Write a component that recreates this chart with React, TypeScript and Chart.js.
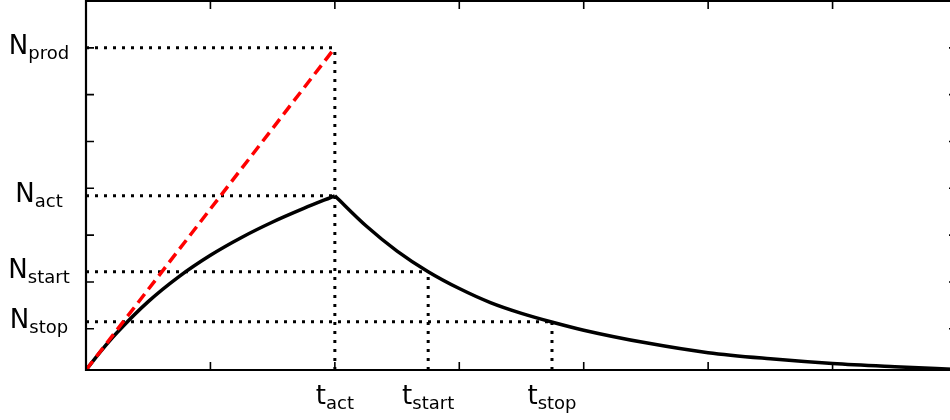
import { useEffect, useRef } from 'react';
import { Chart, registerables } from 'chart.js';

Chart.register(...registerables);

// Time axis (arbitrary units) and population curve
const riseT = [0, 0.125, 0.25, 0.5, 0.75, 1, 1.25, 1.5, 1.75, 2];
const riseN = [0.12, 0.54, 0.92, 1.58, 2.12, 2.57, 2.95, 3.28, 3.57, 3.84];
const decayT = [2, 2.25, 2.5, 2.75, 3, 3.25, 3.5, 3.75, 4, 4.5, 5, 5.5, 6, 6.5, 7];
const decayN = [3.84, 3.2, 2.66, 2.22, 1.86, 1.56, 1.33, 1.14, 0.97, 0.7, 0.49, 0.36, 0.26, 0.19, 0.13];

// Red dashed production line
const prodLineT = [0, 2];
const prodLineN = [0.12, 7];

// Axis limits and tick marks
const xMin = 0;
const xMax = 7;
const yMin = 0.12;
const yMax = 8;
const xTicks = [1, 2, 3, 4, 5, 6];
const yTicks = [1, 2, 3, 4, 5, 6, 7];

// Levels on the N axis
const levelSubs = ['prod', 'act', 'start', 'stop'];
const levelN = [7, 3.84, 2.22, 1.15];
const levelEndT = [2, 2, 2.75, 3.745];

// Times on the t axis
const timeSubs = ['act', 'start', 'stop'];
const timeT = [2, 2.75, 3.745];
const timeTopN = [7, 2.22, 1.15];

const FONT = '"DejaVu Sans", sans-serif';

function drawSubLabel(ctx: CanvasRenderingContext2D, main: string, sub: string, cx: number, baseline: number) {
  const mainFont = `26px ${FONT}`;
  const subFont = `18px ${FONT}`;
  ctx.font = mainFont;
  const w1 = ctx.measureText(main).width;
  ctx.font = subFont;
  const w2 = ctx.measureText(sub).width;
  const x0 = cx - (w1 + w2) / 2;
  ctx.textAlign = 'left';
  ctx.textBaseline = 'alphabetic';
  ctx.fillStyle = '#000';
  ctx.font = mainFont;
  ctx.fillText(main, x0, baseline);
  ctx.font = subFont;
  ctx.fillText(sub, x0 + w1, baseline + 5);
}

const framePlugin = {
  id: 'frameAndLabels',
  afterDraw(chart: any) {
    const ctx = chart.ctx as CanvasRenderingContext2D;
    const { left, right, top, bottom } = chart.chartArea;
    const xs = chart.scales.x;
    const ys = chart.scales.y;
    ctx.save();
    ctx.strokeStyle = '#000';
    ctx.lineWidth = 2.2;
    ctx.beginPath();
    ctx.moveTo(left, top);
    ctx.lineTo(right, top);
    ctx.lineTo(right, bottom);
    ctx.lineTo(left, bottom);
    ctx.closePath();
    ctx.stroke();

    ctx.lineWidth = 1.6;
    ctx.beginPath();
    xTicks.forEach((v) => {
      const px = xs.getPixelForValue(v);
      ctx.moveTo(px, bottom);
      ctx.lineTo(px, bottom - 8);
      ctx.moveTo(px, top);
      ctx.lineTo(px, top + 8);
    });
    yTicks.forEach((v) => {
      const py = ys.getPixelForValue(v);
      ctx.moveTo(left, py);
      ctx.lineTo(left + 8, py);
      ctx.moveTo(right, py);
      ctx.lineTo(right - 8, py);
    });
    ctx.stroke();

    levelSubs.forEach((s, i) => {
      const py = ys.getPixelForValue(levelN[i]);
      drawSubLabel(ctx, 'N', s, 39, py + 6.5);
    });
    timeSubs.forEach((s, i) => {
      const px = xs.getPixelForValue(timeT[i]);
      drawSubLabel(ctx, 't', s, px, 404);
    });
    ctx.restore();
  },
};

export default function App() {
  const ref = useRef<HTMLCanvasElement | null>(null);

  useEffect(() => {
    if (!ref.current) return;
    const toPts = (xs: number[], ys: number[]) => xs.map((x, i) => ({ x, y: ys[i] }));

    const dotted = {
      borderColor: '#000',
      borderWidth: 3,
      borderDash: [3, 6],
      borderCapStyle: 'butt' as const,
      pointRadius: 0,
      tension: 0,
      order: 2,
    };

    const guideSets: any[] = [];
    levelN.forEach((n, i) => {
      guideSets.push({ ...dotted, data: toPts([xMin, levelEndT[i]], [n, n]) });
    });
    timeT.forEach((t, i) => {
      guideSets.push({ ...dotted, data: toPts([t, t], [yMin, timeTopN[i]]) });
    });

    const chart = new Chart(ref.current, {
      type: 'line',
      data: {
        datasets: [
          {
            data: toPts(prodLineT, prodLineN),
            borderColor: '#ff0000',
            borderWidth: 3.5,
            borderDash: [11, 6],
            pointRadius: 0,
            tension: 0,
            order: 0,
          },
          {
            data: toPts(riseT, riseN),
            borderColor: '#000',
            borderWidth: 3.5,
            pointRadius: 0,
            cubicInterpolationMode: 'monotone',
            order: 1,
          },
          {
            data: toPts(decayT, decayN),
            borderColor: '#000',
            borderWidth: 3.5,
            pointRadius: 0,
            cubicInterpolationMode: 'monotone',
            order: 1,
          },
          ...guideSets,
        ],
      },
      options: {
        responsive: false,
        animation: false,
        layout: { padding: { left: 86, top: 1, right: 1, bottom: 50 } },
        plugins: { legend: { display: false }, tooltip: { enabled: false } },
        scales: {
          x: { type: 'linear', min: xMin, max: xMax, display: false },
          y: { type: 'linear', min: yMin, max: yMax, display: false },
        },
      },
      plugins: [framePlugin],
    });
    return () => chart.destroy();
  }, []);

  return (
    <div style={{ position: 'fixed', left: 0, top: 0, width: 958, height: 420, background: '#fff' }}>
      <canvas ref={ref} width={958} height={420} style={{ display: 'block' }} />
    </div>
  );
}
